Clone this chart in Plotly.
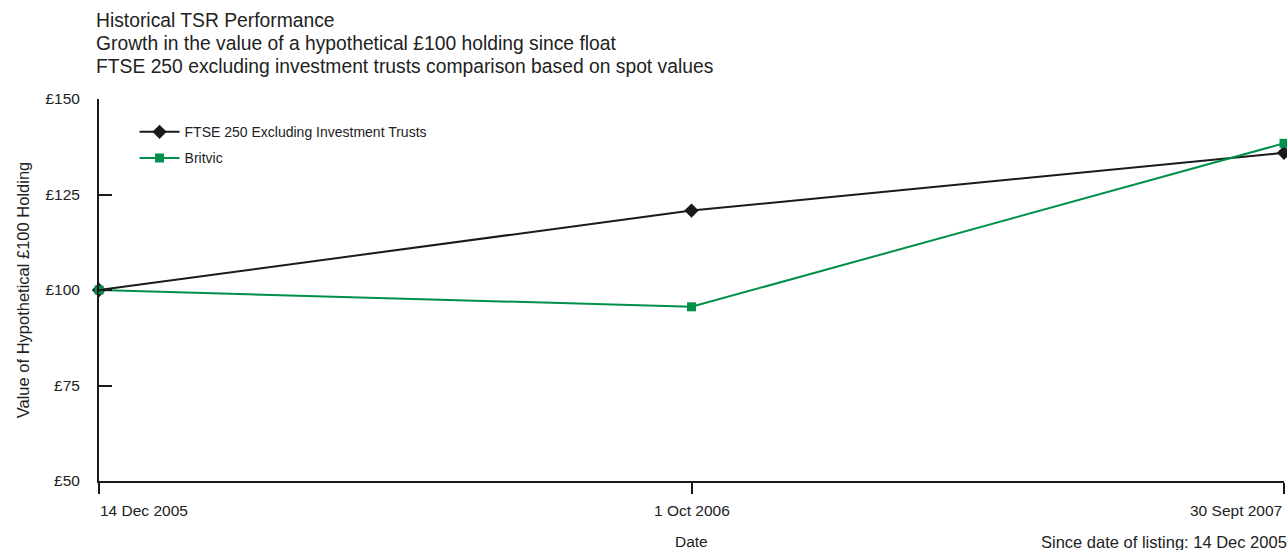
import plotly.graph_objects as go

dates = ["14 Dec 2005", "1 Oct 2006", "30 Sept 2007"]
ftse = [100, 120.8, 135.9]
britvic = [100, 95.6, 138.4]
y_ticks = [50, 75, 100, 125, 150]

FONT = "Liberation Sans, Arial, sans-serif"
TXT = "#222222"
BLACK = "#1a1a1a"
GREEN = "#00904a"

xs = list(range(len(dates)))

fig = go.Figure()
fig.add_trace(go.Scatter(
    x=xs, y=ftse, name="FTSE 250 Excluding Investment Trusts",
    mode="lines+markers", line=dict(color=BLACK, width=2),
    marker=dict(symbol="diamond", size=11, color=BLACK),
    cliponaxis=False, legendgroup="a"))
fig.add_trace(go.Scatter(
    x=xs, y=britvic, name="Britvic",
    mode="lines+markers", line=dict(color=GREEN, width=2),
    marker=dict(symbol="square", size=9, color=GREEN),
    cliponaxis=False, legendgroup="b"))

fig.update_layout(
    width=1287, height=550,
    margin=dict(l=99, r=3, t=99, b=69),
    paper_bgcolor="white", plot_bgcolor="white",
    font=dict(family=FONT, color=TXT, size=15),
    showlegend=True,
    legend=dict(x=0.03, y=0.955, xanchor="left", yanchor="top",
                font=dict(size=14, color=TXT), bgcolor="rgba(0,0,0,0)",
                traceorder="grouped", tracegroupgap=5, itemwidth=40),
)
fig.update_xaxes(range=[0, 2], showgrid=False, zeroline=False,
                 showline=True, linecolor=BLACK, linewidth=2,
                 tickmode="array", tickvals=xs, showticklabels=False,
                 ticks="outside", ticklen=11, tickwidth=2, tickcolor=BLACK)
fig.update_yaxes(range=[50, 150], showgrid=False, zeroline=False,
                 showline=True, linecolor=BLACK, linewidth=2,
                 tickmode="array", tickvals=y_ticks,
                 ticktext=[f"£{v}" for v in y_ticks],
                 ticks="inside", ticklen=13, tickwidth=2, tickcolor=BLACK,
                 tickfont=dict(size=15.5, color=TXT), ticklabelstandoff=14,
                 title=dict(text="Value of Hypothetical £100 Holding",
                            font=dict(size=16.5, color=TXT), standoff=12))

anchors = ["left", "center", "right"]
for i, (d, a) in enumerate(zip(dates, anchors)):
    fig.add_annotation(x=i, y=0, xref="x", yref="paper", text=d,
                       showarrow=False, xanchor=a, yanchor="top", yshift=-19,
                       xshift=(-1 if a == "left" else 0),
                       font=dict(size=15.5, color=TXT))

fig.add_annotation(x=1, y=0, xref="x", yref="paper", text="Date",
                   showarrow=False, xanchor="center", yanchor="top", yshift=-50,
                   font=dict(size=15.5, color=TXT))
fig.add_annotation(x=1, y=0, xref="paper", yref="paper",
                   text="Since date of listing: 14 Dec 2005",
                   showarrow=False, xanchor="right", yanchor="top", yshift=-50,
                   xshift=5, font=dict(size=16.5, color=TXT))

titles = ["Historical TSR Performance",
          "Growth in the value of a hypothetical £100 holding since float",
          "FTSE 250 excluding investment trusts comparison based on spot values"]
for i, t in enumerate(titles):
    fig.add_annotation(x=94, y=20 + 23 * i, xref="paper", yref="paper",
                       text=t, showarrow=False, xanchor="left", yanchor="middle",
                       font=dict(size=19.3, color=TXT))

# convert title pixel positions to paper coords
plot_w = 1287 - 99 - 3
plot_h = 550 - 99 - 69
for ann in fig.layout.annotations[-3:]:
    px, py = ann.x, ann.y
    ann.x = (px - 99) / plot_w
    ann.y = (550 - 69 - py) / plot_h

fig.write_html("out.html")
